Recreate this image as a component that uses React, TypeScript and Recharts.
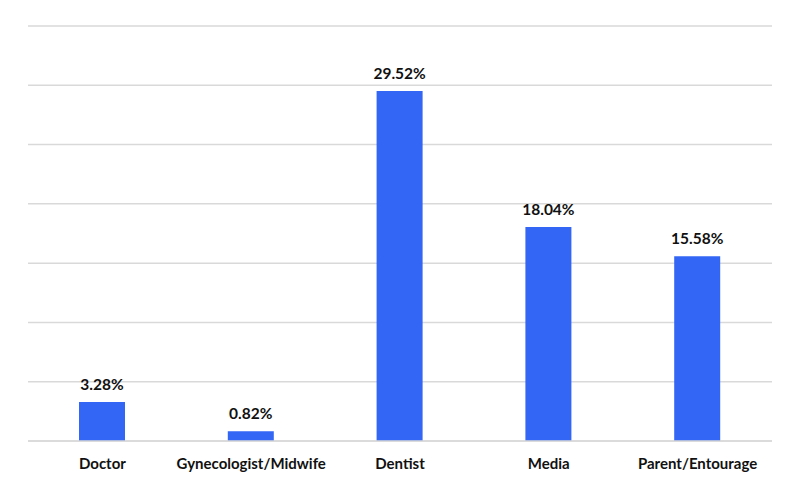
import React from 'react';
import { BarChart, Bar, XAxis, YAxis, CartesianGrid, LabelList } from 'recharts';

const categories = ['Doctor', 'Gynecologist/Midwife', 'Dentist', 'Media', 'Parent/Entourage'];
const shares = [3.28, 0.82, 29.52, 18.04, 15.58];
const yTicks = [0, 5, 10, 15, 20, 25, 30, 35];

const data = categories.map((name, i) => ({ name, value: shares[i] }));

const font = 'Lato, "Open Sans", sans-serif';

export default function App() {
  return (
    <div style={{ position: 'absolute', left: 0, top: 0, width: 800, height: 489, background: '#fff' }}>
      <BarChart width={800} height={489} data={data} margin={{ top: 26, right: 28, left: 28, bottom: 0 }}>
        <CartesianGrid vertical={false} stroke="#d9d9d9" strokeWidth={1.5} />
        <XAxis
          dataKey="name"
          height={48}
          axisLine={{ stroke: '#d9d9d9', strokeWidth: 1.5 }}
          tickLine={false}
          interval={0}
          tick={{ fill: '#111', fontSize: 15, fontWeight: 700, fontFamily: font }}
          tickMargin={11}
        />
        <YAxis hide domain={[0, 35]} ticks={yTicks} />
        <Bar dataKey="value" fill="#3366f5" barSize={46} isAnimationActive={false}>
          <LabelList
            dataKey="value"
            position="top"
            offset={12}
            formatter={(v: any) => `${Number(v).toFixed(2)}%`}
            style={{ fill: '#111', fontSize: 15.5, fontWeight: 700, fontFamily: font }}
          />
        </Bar>
      </BarChart>
    </div>
  );
}
